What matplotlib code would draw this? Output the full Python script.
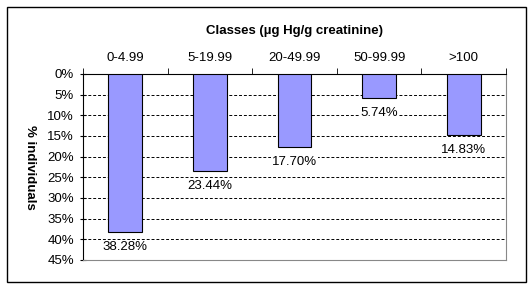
import matplotlib.pyplot as plt
import numpy as np
from matplotlib.patches import Rectangle

categories = ["0-4.99", "5-19.99", "20-49.99", "50-99.99", ">100"]
shares = [38.28, 23.44, 17.70, 5.74, 14.83]
y_ticks = [0, 5, 10, 15, 20, 25, 30, 35, 40, 45]

plt.rcParams["font.family"] = ["Liberation Sans", "DejaVu Sans"]

fig = plt.figure(figsize=(5.31, 2.89), dpi=100)
fig.patches.append(Rectangle((7 / 531, 7 / 289), 519 / 531, 275 / 289,
                             transform=fig.transFigure, fill=False,
                             edgecolor="black", linewidth=1.0))

ax = fig.add_axes([83 / 531, 29 / 289, 423 / 531, 186 / 289])
x = np.arange(len(categories))
ax.bar(x, shares, width=0.4, color="#9999ff", edgecolor="black", linewidth=0.8, zorder=3)

for xi, v in zip(x, shares):
    ax.text(xi, v + 2.2, f"{v:.2f}%", ha="center", va="top", fontsize=9.5, zorder=4,
            bbox=dict(facecolor="white", edgecolor="none", pad=0.5))

ax.set_xlim(-0.5, len(categories) - 0.5)
ax.set_ylim(45, 0)
ax.set_yticks(y_ticks)
ax.set_yticklabels([f"{t}%" for t in y_ticks], fontsize=9.5)
for t in y_ticks[1:-1]:
    ax.axhline(t, color="black", linestyle=(0, (3, 2)), linewidth=0.7, zorder=1)

ax.xaxis.tick_top()
ax.set_xticks(x)
ax.set_xticklabels(categories, fontsize=9.5)
ax.set_xticks(np.arange(len(categories) + 1) - 0.5, minor=True)
ax.tick_params(axis="x", which="major", length=0, pad=7)
ax.tick_params(axis="x", which="minor", length=4, direction="out")
ax.tick_params(axis="y", length=5, direction="inout", pad=4)

ax.spines["left"].set_color("black")
ax.spines["top"].set_color("black")
ax.spines["right"].set_color("#888888")
ax.spines["bottom"].set_color("#888888")

ax.set_xlabel("Classes (µg Hg/g creatinine)", fontsize=9.5, fontweight="bold", labelpad=13)
ax.xaxis.set_label_position("top")
ax.set_ylabel("% individuals", fontsize=9.5, fontweight="bold", rotation=270)
ax.yaxis.set_label_coords(-0.14, 0.5)

fig.savefig("out.png", dpi=100)
